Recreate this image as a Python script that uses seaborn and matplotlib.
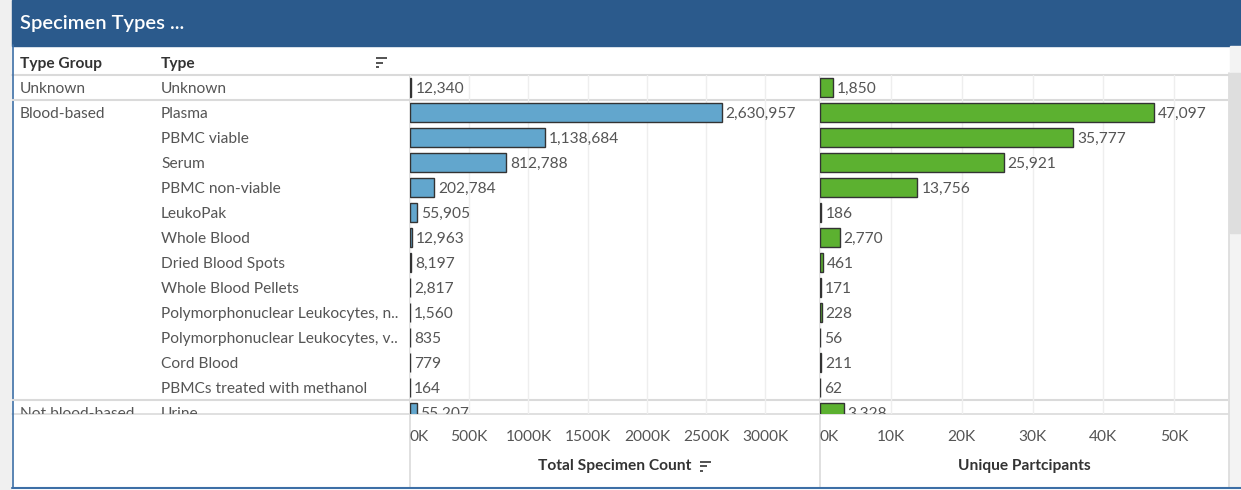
import matplotlib
matplotlib.use("Agg")
import matplotlib.pyplot as plt
import matplotlib.transforms as mtransforms
from matplotlib.patches import Rectangle
import seaborn as sns
import pandas as pd

# ---------------- data ----------------
type_groups = ["Unknown", "Blood-based", "", "", "", "", "", "", "", "", "", "", "",
               "Not blood-based"]
types = ["Unknown", "Plasma", "PBMC viable", "Serum", "PBMC non-viable", "LeukoPak",
         "Whole Blood", "Dried Blood Spots", "Whole Blood Pellets",
         "Polymorphonuclear Leukocytes, n..", "Polymorphonuclear Leukocytes, v..",
         "Cord Blood", "PBMCs treated with methanol", "Urine"]
total_specimen_count = [12340, 2630957, 1138684, 812788, 202784, 55905, 12963, 8197,
                        2817, 1560, 835, 779, 164, 55207]
unique_participants = [1850, 47097, 35777, 25921, 13756, 186, 2770, 461, 171, 228, 56,
                       211, 62, 3328]
count_ticks = [0, 500000, 1000000, 1500000, 2000000, 2500000, 3000000]
part_ticks = [0, 10000, 20000, 30000, 40000, 50000]

df = pd.DataFrame({"Type": types, "Total": total_specimen_count,
                   "Participants": unique_participants})

# ---------------- style ----------------
W, H = 1241, 490
sns.set_theme(style="white")
plt.rcParams['font.family'] = ['Lato', 'DejaVu Sans']

BLUE = "#62a6cd"
GREEN = "#5cb130"
EDGE = "#333333"
TXT = "#555555"
HDR = "#333333"
LINE = "#dadada"
GRID = "#eeeeee"
FS = 11.2

fig = plt.figure(figsize=(W / 100, H / 100), dpi=100)
fig.patch.set_facecolor("#f0f0f0")


def rect(x0, y0, x1, y1):
    return [x0 / W, 1 - y1 / H, (x1 - x0) / W, (y1 - y0) / H]


# background in pixel coordinates
bg = fig.add_axes([0, 0, 1, 1], zorder=0)
bg.set_xlim(0, W)
bg.set_ylim(H, 0)
bg.axis("off")
bg.add_patch(Rectangle((12, 45), W - 12, H - 45, color="white"))
bg.add_patch(Rectangle((12, 0), W - 12, 46, color="#2b5a8c"))
bg.text(20, 23, "Specimen Types ...", color="white", fontsize=14.5,
        fontweight="semibold", va="center", ha="left")
# header row
bg.text(20, 64, "Type Group", fontsize=FS, fontweight="bold", color=HDR, va="center")
bg.text(161, 64, "Type", fontsize=FS, fontweight="bold", color=HDR, va="center")


def sort_icon(x, y):
    for k, L in enumerate([11, 7, 3]):
        bg.plot([x, x + L], [y - 4.5 + 4.5 * k] * 2, color="#444444", lw=1.3,
                solid_capstyle="butt")


sort_icon(376, 63)
# structural lines
bg.plot([12, 1228], [75, 75], color=LINE, lw=1.5)
bg.plot([12, 1228], [414, 414], color=LINE, lw=1.2)
bg.plot([410, 410], [75, 488], color=LINE, lw=1.2)
bg.plot([820, 820], [75, 488], color=LINE, lw=1.2)
bg.plot([1229, 1229], [73, 488], color=LINE, lw=1.2)
# scrollbar
bg.add_patch(Rectangle((1230, 46), 11, 442, color="#f3f3f3"))
bg.add_patch(Rectangle((1230, 73), 11, 160, color="#dedede"))
# borders
bg.plot([12, W], [488, 488], color="#3d6fa6", lw=1.5)
bg.plot([12.5, 12.5], [45, 488], color="#3d6fa6", lw=1.2)

# row geometry: rows of 25 px, first row centred at y=87, pane ends at y=414
Y_TOP, Y_BOT, ROW = 74.5, 414, 25.0
ylim_bottom = (Y_BOT - Y_TOP) / ROW - 0.5

# table (labels) axes
tab = fig.add_axes(rect(12, Y_TOP, 410, Y_BOT), zorder=2)
tab.set_xlim(12, 410)
tab.set_ylim(ylim_bottom, -0.5)
tab.axis("off")
toff = mtransforms.offset_copy(tab.transData, fig=fig, x=0, y=-1.5, units="dots")
for i, (g, t) in enumerate(zip(type_groups, types)):
    tab.text(20, i, g, fontsize=FS, color=TXT, va="center", ha="left",
             clip_on=True, transform=toff)
    tab.text(161, i, t, fontsize=FS, color=TXT, va="center", ha="left",
             clip_on=True, transform=toff)
for yy in [0.5, len(types) - 1.5]:
    tab.axhline(yy, color=LINE, lw=1.5)


def k_fmt(v, _pos=None):
    return f"{int(round(v / 1000))}K"


def bar_panel(x0, x1, col, color, ticks, xmax, title):
    ax = fig.add_axes(rect(x0, Y_TOP, x1, Y_BOT), zorder=2)
    ax.patch.set_alpha(0)
    sns.barplot(data=df, y="Type", x=col, orient="h", color=color, edgecolor=EDGE,
                linewidth=1.0, width=0.76, ax=ax, saturation=1)
    ax.set_xlim(0, xmax)
    ax.set_ylim(ylim_bottom, -0.5)
    ax.set_xticks(ticks)
    ax.xaxis.set_major_formatter(matplotlib.ticker.FuncFormatter(k_fmt))
    ax.tick_params(axis="x", length=0, pad=11.5, labelsize=FS, labelcolor=TXT)
    ax.tick_params(axis="y", left=False, labelleft=False)
    ax.set_ylabel("")
    ax.set_xlabel(title, fontsize=FS, fontweight="bold", color=HDR, labelpad=11)
    ax.grid(axis="x", color=GRID, lw=1)
    ax.set_axisbelow(True)
    for s in ax.spines.values():
        s.set_visible(False)
    for yy in [0.5, len(types) - 1.5]:
        ax.axhline(yy, color=LINE, lw=1.5, zorder=0)
    off = mtransforms.offset_copy(ax.transData, fig=fig, x=4, y=-1.5, units="dots")
    for i, v in enumerate(df[col]):
        ax.text(v, i, f"{v:,}", transform=off, fontsize=FS, color=TXT,
                va="center", ha="left", clip_on=True)
    fig.canvas.draw()
    labs = ax.get_xticklabels()
    if labs:
        labs[0].set_ha("left")
    return ax


ax1 = bar_panel(410, 820, "Total", BLUE, count_ticks, 3.46e6, "Total Specimen Count")
ax2 = bar_panel(820, 1228, "Participants", GREEN, part_ticks, 57600,
                "Unique Partcipants")
sort_icon(700, 466)

fig.savefig("out.png", dpi=100)
